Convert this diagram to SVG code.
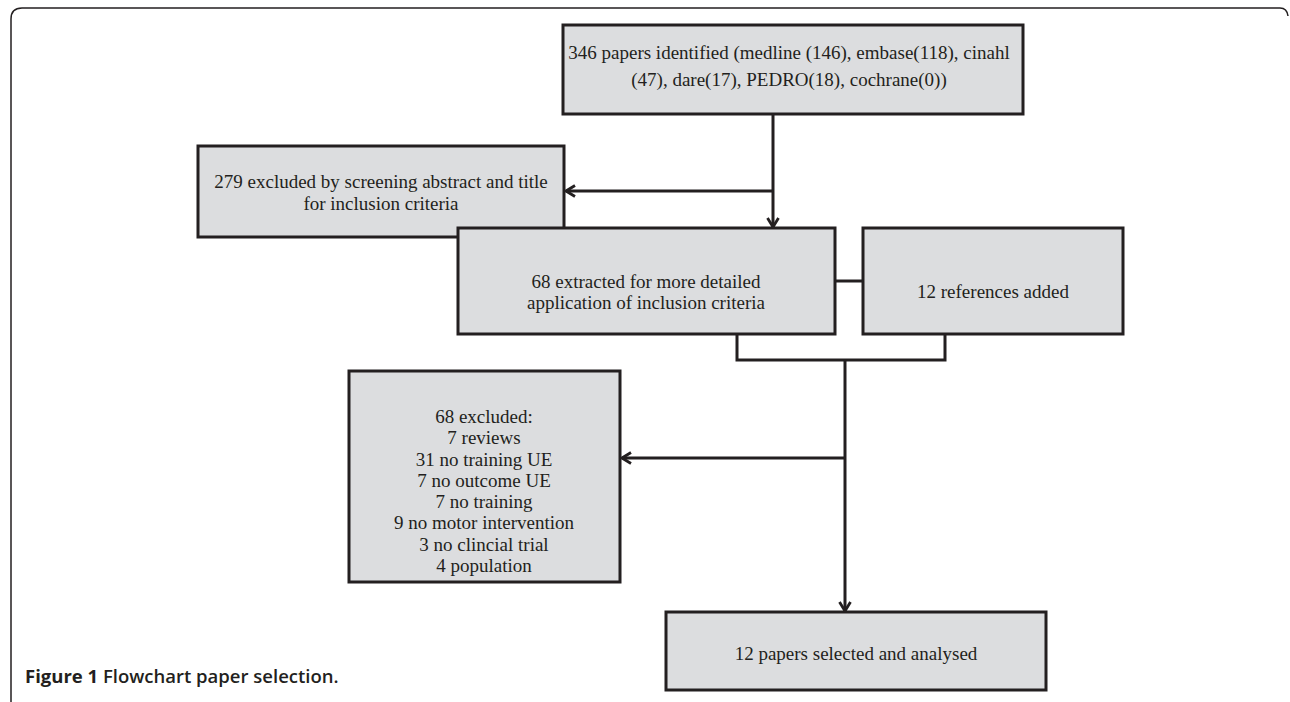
<svg xmlns="http://www.w3.org/2000/svg" width="1290" height="702" viewBox="0 0 1290 702">
<defs>
<style>
.box{fill:#dcdddf;stroke:#231f20;stroke-width:3}
.t{font-family:"Liberation Serif","Times New Roman",serif;font-size:19px;fill:#231f20;text-anchor:middle}
.ln{fill:none;stroke:#231f20;stroke-width:3}
.cap{font-family:"Open Sans","Liberation Sans",sans-serif;font-size:18.5px;fill:#231f20}
</style>
<marker id="ah" viewBox="0 0 14 14" refX="12" refY="7" markerWidth="14" markerHeight="14" markerUnits="userSpaceOnUse" orient="auto">
<path d="M3,1.5 L12,7 L3,12.5" fill="none" stroke="#231f20" stroke-width="2.8"/>
</marker>
</defs>
<rect width="1290" height="702" fill="#fff"/>
<path d="M11,702 L11,19 Q11,8 22,8 L1280,8 Q1287,8 1288,16" fill="none" stroke="#231f20" stroke-width="1.5"/>
<g id="n1"><rect class="box" x="563" y="25" width="460" height="89"/>
<text class="t" x="789" y="59">346 papers identified (medline (146), embase(118), cinahl</text>
<text class="t" x="789" y="86">(47), dare(17), PEDRO(18), cochrane(0))</text></g>
<g id="n2"><rect class="box" x="198" y="146" width="366" height="91"/>
<text class="t" x="381" y="188">279 excluded by screening abstract and title</text>
<text class="t" x="381" y="210">for inclusion criteria</text></g>
<g id="n3"><rect class="box" x="458" y="228" width="377" height="106"/>
<text class="t" x="646" y="288">68 extracted for more detailed</text>
<text class="t" x="646" y="309">application of inclusion criteria</text></g>
<g id="n4"><rect class="box" x="863" y="228" width="260" height="106"/>
<text class="t" x="993" y="298">12 references added</text></g>
<g id="n5"><rect class="box" x="349" y="371" width="271" height="211"/>
<text class="t" x="484" y="423">68 excluded:</text>
<text class="t" x="484" y="444">7 reviews</text>
<text class="t" x="484" y="466">31 no training UE</text>
<text class="t" x="484" y="487">7 no outcome UE</text>
<text class="t" x="484" y="508">7 no training</text>
<text class="t" x="484" y="529">9 no motor intervention</text>
<text class="t" x="484" y="551">3 no clincial trial</text>
<text class="t" x="484" y="572">4 population</text></g>
<g id="n6"><rect class="box" x="666" y="612" width="380" height="78"/>
<text class="t" x="856" y="660">12 papers selected and analysed</text></g>
<g id="connectors">
<line class="ln" x1="773" y1="114" x2="773" y2="227" marker-end="url(#ah)"/>
<line class="ln" x1="773" y1="191" x2="566" y2="191" marker-end="url(#ah)"/>
<line class="ln" x1="835" y1="281" x2="863" y2="281"/>
<polyline class="ln" points="737,334 737,360 945,360 945,334"/>
<line class="ln" x1="845" y1="360" x2="845" y2="611" marker-end="url(#ah)"/>
<line class="ln" x1="845" y1="458" x2="622" y2="458" marker-end="url(#ah)"/>
</g>
<text class="cap" x="25" y="683"><tspan font-weight="700">Figure 1</tspan><tspan font-weight="600"> Flowchart paper selection.</tspan></text>
</svg>
